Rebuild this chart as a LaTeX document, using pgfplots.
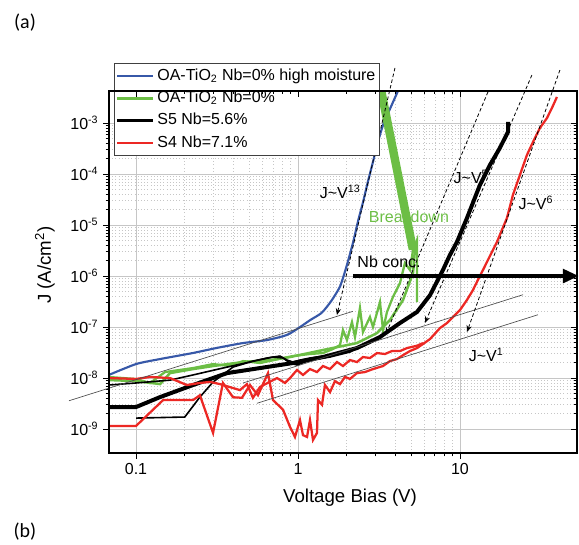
\documentclass[border=0pt]{standalone}
\usepackage{fontspec}
\setmainfont{Liberation Sans}
\newfontfamily\calibri{Carlito}
\usepackage{pgfplots}
\pgfplotsset{compat=1.18}
\usetikzlibrary{arrows.meta}
\definecolor{cblue}{RGB}{55,88,168}
\definecolor{cgreen}{RGB}{108,190,69}
\definecolor{cred}{RGB}{236,40,36}
\newcommand\fs{\fontsize{12}{14}\selectfont}
\begin{document}
\begin{tikzpicture}
\begin{axis}[
  at={(0pt,0pt)}, anchor=south west,
  scale only axis, width=351pt, height=271.5pt,
  xmode=log, ymode=log,
  xmin=0.0681, xmax=52.8, ymin=3.39e-10, ymax=4.24e-3,
  clip mode=individual,
  axis line style={line width=0.8pt},
  tick style={line width=0.6pt, black},
  major tick length=4.5pt, minor tick length=2.5pt,
  tick align=outside, xtick pos=left, ytick pos=left,
  grid=both,
  major grid style={gray!45, line width=0.6pt},
  minor grid style={gray!45, dotted, line width=0.5pt},
  xtick={0.1,1,10}, xticklabels={0.1,1,10},
  ytick={1e-9,1e-8,1e-7,1e-6,1e-5,1e-4,1e-3},
  yticklabels={10\textsuperscript{-9},10\textsuperscript{-8},10\textsuperscript{-7},10\textsuperscript{-6},10\textsuperscript{-5},10\textsuperscript{-4},10\textsuperscript{-3}},
  ticklabel style={font=\fs},
  xlabel={Voltage Bias (V)},
  ylabel={J (A/cm\textsuperscript{2})},
  label style={font=\fontsize{14}{16}\selectfont},
  xlabel style={at={(axis description cs:0.515,-0.124)}, anchor=center},
  ylabel style={at={(axis description cs:-0.137,0.519)}, anchor=center},
  legend cell align=left,
  legend image code/.code={\draw[#1] (0pt,0pt) -- (27pt,0pt);},
  legend style={at={(axis description cs:0.0107,1.077)}, anchor=north west,
    draw=black!75, line width=0.6pt, fill=white, font=\fs,
    inner xsep=1pt, inner ysep=1pt,
    nodes={text height=9pt, text depth=3pt, inner ysep=2.4pt, inner xsep=2pt}},
]
\addlegendimage{cblue, line width=1.6pt}
\addlegendentry{OA-TiO\textsubscript{2} Nb=0\% high moisture}
\addlegendimage{cgreen, line width=2.2pt}
\addlegendentry{OA-TiO\textsubscript{2} Nb=0\%}
\addlegendimage{black, line width=2.2pt}
\addlegendentry{S5 Nb=5.6\%}
\addlegendimage{cred, line width=1.6pt}
\addlegendentry{S4 Nb=7.1\%}

% blue
\addplot[cblue, line width=1.6pt, smooth, tension=0.4, forget plot] coordinates {
(0.068,1.15e-8)(0.1,1.88e-8)(0.141,2.36e-8)(0.225,3.1e-8)(0.316,3.9e-8)(0.458,4.85e-8)(0.643,5.55e-8)(0.855,7e-8)(1.03,1e-7)(1.19,1.37e-7)(1.4,1.9e-7)(1.6,3.2e-7)(1.82,6.3e-7)(2.0,1.6e-6)(2.19,4.6e-6)(2.35,1.2e-5)(2.52,2.8e-5)(2.7,7e-5)(2.9,1.7e-4)(3.12,4.3e-4)(3.35,9.1e-4)(3.7,1.9e-3)(4.15,4.3e-3)};

% green
\addplot[cgreen, line width=1.9pt, forget plot] coordinates {
(0.068,9.14e-9)(0.1,8.73e-9)(0.141,7.62e-9)(0.162,1.25e-8)(0.225,1.5e-8)(0.299,1.72e-8)(0.458,2.06e-8)(0.672,2.25e-8)(0.893,2.58e-8)(1.427,3.54e-8)(2.312,4.85e-8)(3.073,7.61e-8)(3.697,1.37e-7)(4.45,3.38e-7)(5.13,1.15e-6)(5.27,3.24e-6)};
\addplot[cgreen, line width=1.7pt, forget plot] coordinates {
(0.068,1.05e-8)(0.1,9.56e-9)(0.122,7.98e-9)(0.151,1.31e-8)(0.225,1.57e-8)(0.299,1.88e-8)(0.38,1.72e-8)(0.458,2.15e-8)(0.583,1.97e-8)(0.931,2.7e-8)(1.186,2.96e-8)(1.427,3.09e-8)(1.644,3.71e-8)(1.817,4.43e-8)(1.896,8.73e-8)(2.006,5.56e-8)(2.154,1.25e-7)(2.249,6.37e-8)(2.413,2.36e-7)(2.518,7.98e-8)(2.781,1.57e-7)(2.904,1.0e-7)(3.208,3.09e-7)(3.349,8.73e-8)(3.543,1.97e-7)(3.857,3.87e-7)(4.265,7.3e-7)(4.574,1.8e-6)(4.912,1.31e-6)(5.129,3.24e-6)(5.429,5.08e-6)(5.429,3.09e-7)};
\addplot[cgreen, line width=2.6pt, forget plot] coordinates {(4.95,3.24e-6)(3.12,5e-3)};
\addplot[cgreen, line width=2.6pt, forget plot] coordinates {(5.13,3.24e-6)(3.23,5e-3)};
\addplot[cgreen, line width=2.6pt, forget plot] coordinates {(5.32,3.24e-6)(3.35,5e-3)};

% black
\addplot[black, line width=1.2pt, forget plot] coordinates {
(0.068,7.3e-9)(0.1,8e-9)(0.162,9.1e-9)(0.225,1.15e-8)(0.365,1.64e-8)(0.505,2.06e-8)(0.644,2.47e-8)(0.774,2.7e-8)(0.855,2.25e-8)(0.931,2.06e-8)(1.029,2.25e-8)(1.186,2.47e-8)(1.427,2.7e-8)(1.817,2.96e-8)(2.312,3.87e-8)(3.208,6.1e-8)};
\addplot[black, line width=1.2pt, forget plot] coordinates {
(0.1,1.64e-9)(0.2,1.72e-9)(0.248,4.24e-9)(0.299,8.35e-9)(0.397,1.64e-8)(0.527,2.15e-8)(0.701,2.58e-8)(0.808,2.47e-8)(0.893,1.97e-8)(0.986,1.8e-8)(1.186,2.25e-8)(1.577,2.58e-8)(2.094,3.24e-8)(2.592,4.43e-8)(3.208,6.1e-8)};
\addplot[black, line width=3pt, forget plot] coordinates {
(0.068,2.7e-9)(0.1,2.7e-9)(0.141,4.24e-9)(0.225,7.3e-9)(0.365,1.25e-8)(0.583,1.57e-8)(0.931,1.97e-8)(1.427,2.58e-8)(2.312,3.87e-8)(3.208,6.37e-8)(4.265,1.2e-7)(5.429,1.97e-7)(6.531,4.2e-7)(7.85,1.31e-6)(8.67,2.58e-6)(9.58,4.64e-6)(11.05,1.37e-5)(13.28,6.1e-5)(15.31,1.5e-4)(17.6,3.2e-4)(19.8,6.7e-4)(19.8,1.05e-3)};

% red
\addplot[cred, line width=1.7pt, forget plot] coordinates {
(0.068,1.0e-8)(0.1,9.6e-9)(0.122,1.05e-8)(0.162,1.0e-8)(0.206,7.3e-9)(0.248,8.0e-9)(0.286,8.4e-9)(0.330,7.6e-9)(0.438,5.8e-9)(0.484,7.6e-9)(0.527,4.1e-9)(0.583,6.7e-9)(0.742,1.0e-8)(0.832,8.0e-9)(0.893,1.0e-8)(0.986,1.44e-8)(1.074,1.15e-8)(1.186,1.5e-8)(1.310,1.31e-8)(1.427,1.72e-8)(1.577,1.5e-8)(1.741,2.06e-8)(1.896,1.72e-8)(2.094,2.25e-8)(2.312,2.06e-8)(2.518,2.58e-8)(2.781,2.47e-8)(3.073,3.09e-8)(3.443,2.96e-8)(3.802,3.38e-8)(4.265,3.38e-8)(4.71,3.87e-8)(5.429,4.3e-8)(5.912,4.85e-8)};
\addplot[cred, line width=1.7pt, forget plot] coordinates {
(0.068,1.15e-9)(0.100,1.15e-9)(0.147,3.7e-9)(0.225,3.7e-9)(0.248,4.6e-9)(0.299,8.4e-10)(0.344,8.0e-9)(0.397,4.2e-9)(0.451,4.1e-9)(0.505,7.3e-9)(0.566,4.6e-9)(0.653,1.25e-8)(0.701,3.7e-9)(0.808,2.4e-9)(0.893,1.1e-9)(0.958,7.0e-10)(1.029,1.5e-9)(1.074,7.6e-10)(1.137,7.0e-10)(1.186,1.5e-9)(1.238,6.1e-10)(1.310,8.4e-10)(1.329,3.7e-9)(1.406,3.0e-9)(1.468,7.3e-9)(1.577,5.3e-9)(1.691,8.7e-9)(1.817,7.6e-9)(1.950,1.05e-8)(2.094,9.6e-9)(2.312,1.25e-8)(2.592,1.31e-8)(2.904,1.5e-8)(3.349,1.72e-8)(3.697,2.15e-8)(4.084,2.36e-8)(4.574,2.96e-8)(4.912,3.38e-8)(5.429,3.87e-8)(5.912,4.64e-8)(6.531,5.82e-8)(7.532,9.55e-8)(8.318,1.2e-7)(9.057,1.57e-7)(10.0,2.15e-7)(11.05,3.4e-7)(12.03,5.3e-7)(12.91,8.4e-7)(13.87,1.31e-6)(14.89,2.06e-6)(15.99,3.24e-6)(16.91,4.64e-6)(18.16,8.0e-6)(19.50,1.37e-5)(21.24,3.9e-5)(23.46,9.6e-5)(25.92,2.36e-4)(28.24,4.24e-4)(31.19,8.0e-4)(34.45,1.25e-3)(36.98,1.97e-3)(39.70,3.24e-3)};

% reference lines J ~ V
\draw[black!70, line width=0.5pt] (axis cs:0.0386,3.59e-9) -- (axis cs:2.18,2.03e-7);
\draw[black!70, line width=0.5pt] (axis cs:0.458,8.0e-9) -- (axis cs:24.5,4.3e-7);
\draw[black!70, line width=0.5pt] (axis cs:0.558,3.2e-9) -- (axis cs:30.3,1.74e-7);

% dashed arrows
\tikzset{darr/.style={black, line width=0.6pt, dash pattern=on 2.6pt off 1.8pt, -{Stealth[length=5pt,width=4pt]}}}
\draw[darr] (axis cs:3.97,1.2e-2) -- (axis cs:1.74,1.72e-7);
\draw[darr] (axis cs:14.89,4.06e-3) -- (axis cs:3.49,7.3e-8);
\draw[darr] (axis cs:27.8,8.7e-3) -- (axis cs:6.08,1.2e-7);
\draw[darr] (axis cs:41.4,1.09e-2) -- (axis cs:11.05,7.98e-8);

% Nb conc arrow
\draw[black, line width=3pt, -{Triangle[length=12pt,width=10pt]}] (axis cs:2.18,1e-6) -- (axis cs:54.3,1e-6);

% labels
\node[font=\fs] at (axis cs:1.82,4.4e-5) {J\textasciitilde V\textsuperscript{13}};
\node[font=\fs, text=cgreen] at (axis cs:4.84,1.44e-5) {Breakdown};
\node[font=\fs] at (axis cs:11.7,8.7e-5) {J\textasciitilde V\textsuperscript{5}};
\node[font=\fs] at (axis cs:29.4,2.7e-5) {J\textasciitilde V\textsuperscript{6}};
\node[font=\fs] at (axis cs:14.5,2.83e-8) {J\textasciitilde V\textsuperscript{1}};
\node[font=\fs] at (axis cs:3.65,1.88e-6) {Nb conc.};
\end{axis}
\begin{axis}[
  at={(0pt,0pt)}, anchor=south west,
  scale only axis, width=351pt, height=271.5pt,
  xmode=log, ymode=log,
  xmin=0.0681, xmax=52.8, ymin=3.39e-10, ymax=4.24e-3,
  axis line style={line width=0.8pt},
  tick style={line width=0.6pt, black},
  major tick length=4.5pt, minor tick length=2.5pt,
  tick align=inside, xtick pos=right, ytick pos=right,
  xtick={0.1,1,10}, ytick={1e-9,1e-8,1e-7,1e-6,1e-5,1e-4,1e-3},
  xticklabels={,,}, yticklabels={,,,,,,},
]
\end{axis}
\node[font=\calibri\fontsize{15}{17}\selectfont] at (-63pt,322.5pt) {(a)};
\node[font=\calibri\fontsize{15}{17}\selectfont] at (-63pt,-59.25pt) {(b)};
\pgfresetboundingbox
\path[use as bounding box] (-81.75pt,-68.25pt) rectangle (352.5pt,339.75pt);
\end{tikzpicture}
\end{document}
